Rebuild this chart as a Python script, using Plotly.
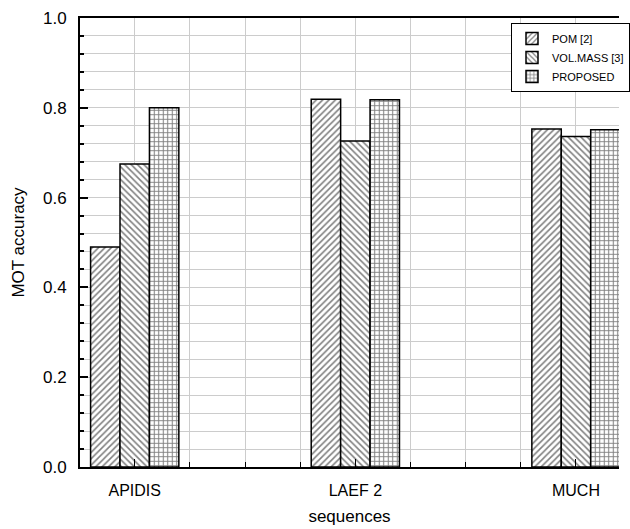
import plotly.graph_objects as go

categories = ["APIDIS", "LAEF 2", "MUCH"]
series_names = ["POM [2]", "VOL.MASS [3]", "PROPOSED"]
pom = [0.490, 0.819, 0.753]
volmass = [0.675, 0.726, 0.736]
proposed = [0.800, 0.818, 0.751]
y_ticks = [0.0, 0.2, 0.4, 0.6, 0.8, 1.0]

x_pos = list(range(len(categories)))
shapes = ["/", "\\", "+"]
sizes = [4.5, 4.5, 4.5]
solidities = [0.35, 0.35, 0.4]
values = [pom, volmass, proposed]

FONT = "Arial, Liberation Sans, sans-serif"

fig = go.Figure()
for name, vals, shp, sz, sol in zip(series_names, values, shapes, sizes, solidities):
    fig.add_trace(go.Bar(
        x=x_pos, y=vals, name=name,
        marker=dict(
            color="white",
            line=dict(color="black", width=1.5),
            pattern=dict(shape=shp, fgcolor="black", bgcolor="white",
                         size=sz, solidity=sol, fillmode="overlay"),
        ),
    ))

fig.update_layout(
    width=630, height=529,
    margin=dict(l=80, r=0, t=18, b=62),
    paper_bgcolor="white", plot_bgcolor="white",
    barmode="group", bargap=0.6, bargroupgap=0,
    font=dict(family=FONT, color="black", size=16),
    legend=dict(
        x=0.8, y=0.989, xanchor="left", yanchor="top",
        bgcolor="white", bordercolor="black", borderwidth=1,
        font=dict(size=11, family=FONT),
        tracegroupgap=0, itemwidth=30,
    ),
    showlegend=True,
)

fig.update_xaxes(
    range=[-0.248, 2.195],
    tickvals=x_pos, ticktext=categories,
    ticks="inside", ticklen=8, tickwidth=1, tickcolor="black",
    showline=True, linecolor="black", linewidth=2, mirror=True,
    showgrid=True, gridcolor="#cccccc", gridwidth=1,
    minor=dict(dtick=0.25, tick0=0, showgrid=True, gridcolor="#cccccc",
               ticks="inside", ticklen=5, tickcolor="black"),
    zeroline=False,
    tickfont=dict(size=16),
    ticklabelstandoff=8,
    title=dict(text="sequences", font=dict(size=17), standoff=12),
)

fig.update_yaxes(
    range=[0, 1.0],
    tickvals=y_ticks, tickformat=".1f",
    ticks="inside", ticklen=8, tickwidth=1.5, tickcolor="black",
    showline=True, linecolor="black", linewidth=2, mirror=False,
    showgrid=True, gridcolor="#cccccc", gridwidth=1,
    minor=dict(dtick=0.04, tick0=0, showgrid=True, gridcolor="#cccccc",
               ticks="inside", ticklen=4, tickcolor="black"),
    zeroline=False,
    tickfont=dict(size=17),
    ticklabelstandoff=8,
    title=dict(text="MOT accuracy", font=dict(size=17), standoff=14),
)

fig.write_html("out.html")
